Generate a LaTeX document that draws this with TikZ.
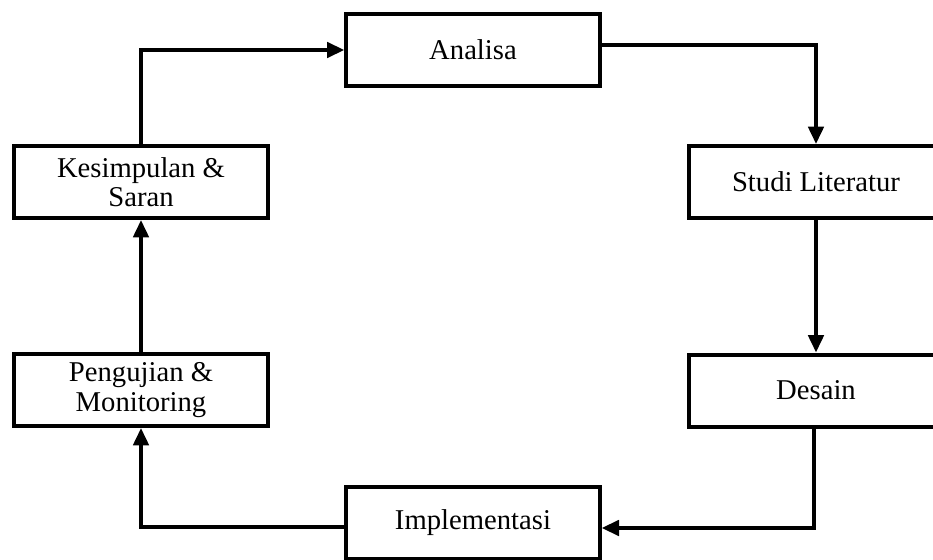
\documentclass[tikz,border=0pt]{standalone}
\usepackage{fontspec}
\setmainfont{Liberation Serif}
\usetikzlibrary{arrows.meta}
\begin{document}
\begin{tikzpicture}[x=0.75pt,y=-0.75pt,
  stepbox/.style={draw, line width=3pt, minimum width=190pt, minimum height=54pt,
    align=center, inner sep=0pt, font=\fontsize{21.5}{22}\selectfont},
  flow/.style={line width=2.8pt, -{Triangle[length=13pt,width=11.5pt]}}]
\useasboundingbox (0,0) rectangle (933,560);
\clip (0,0) rectangle (933,560);
\node[stepbox] (ana) at (473,50) {Analisa};
\node[stepbox] (stu) at (816,182) {Studi Literatur};
\node[stepbox] (des) at (816,390.5) {Desain};
\node[stepbox] (imp) at (473,523) {Implementasi};
\node[stepbox] (kes) at (141,182) {Kesimpulan \&\\Saran};
\node[stepbox] (pen) at (141,390) {Pengujian \&\\Monitoring};
\draw[flow] (kes.north) |- (ana.west);
\draw[flow] ([yshift=3.75pt]ana.east) -| (stu.north);
\draw[flow] (stu.south) -- (des.south |- des.north);
\draw[flow] ([xshift=-1.5pt]des.south) |- ([yshift=-3.75pt]imp.east);
\draw[flow] ([yshift=-3pt]imp.west) -| (pen.south);
\draw[flow] (pen.north) -- (kes.south);
\end{tikzpicture}
\end{document}
